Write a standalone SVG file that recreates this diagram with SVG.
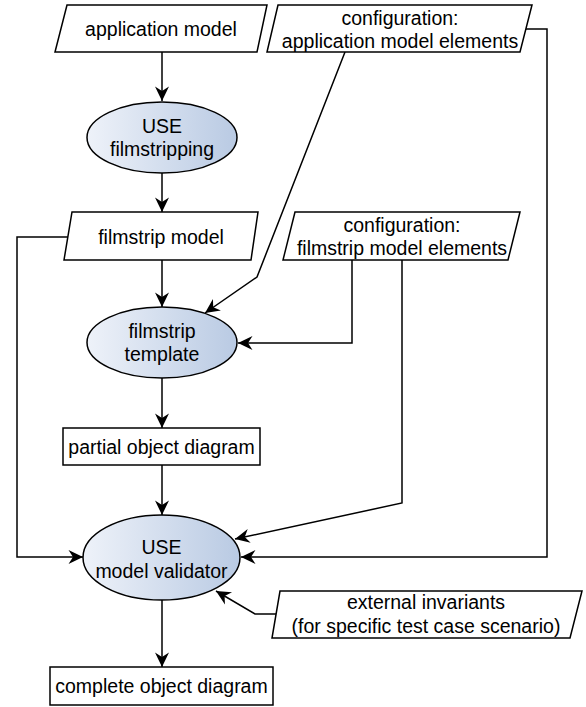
<svg xmlns="http://www.w3.org/2000/svg" width="586" height="707" viewBox="0 0 586 707">
<defs>
<linearGradient id="g" x1="0" y1="0" x2="1" y2="0">
<stop offset="0" stop-color="#eef2f9"/>
<stop offset="1" stop-color="#b9cae3"/>
</linearGradient>
<marker id="arr" markerUnits="userSpaceOnUse" markerWidth="18" markerHeight="18" viewBox="-16 -9 18 18" refX="0" refY="0" orient="auto">
<path d="M0,0 L-14.5,-7 L-10,0 L-14.5,7 Z" fill="#000"/>
</marker>
<style>
.s{fill:#fff;stroke:#000;stroke-width:1.5}
.e{fill:url(#g);stroke:#000;stroke-width:1.5}
.c{fill:none;stroke:#000;stroke-width:1.5}
.a{marker-end:url(#arr)}
text{font-family:"Liberation Sans",Arial,sans-serif;font-size:19.5px;fill:#000;text-anchor:middle}
</style>
</defs>
<rect width="586" height="707" fill="#fff"/>
<g id="connectors">
<path class="c a" d="M162,52 L162,101"/>
<path class="c a" d="M162,173 L162,212"/>
<path class="c a" d="M162,260 L162,307"/>
<path class="c a" d="M162,378 L162,428"/>
<path class="c a" d="M162,465 L162,515"/>
<path class="c a" d="M162,600 L162,667"/>
<path class="c a" d="M68,237 L17,237 L17,557 L83,557"/>
<path class="c a" d="M526,29 L547,29 L547,557 L241,557"/>
<path class="c a" d="M345,52 L257,277 L205,313"/>
<path class="c a" d="M352,260 L352,343 L238,343"/>
<path class="c a" d="M402,260 L402,503 L235,539"/>
<path class="c a" d="M276,614 L255,614 L216,591"/>
</g>
<g id="application-model">
<path class="s" d="M67,5 L267,5 L257,52 L55,52 Z"/>
<text x="161" y="36">application model</text>
</g>
<g id="config-app-model">
<path class="s" d="M278,5 L532,5 L520,52 L267,52 Z"/>
<text x="400" y="25">configuration:</text>
<text x="400" y="48">application model elements</text>
</g>
<g id="use-filmstripping">
<ellipse class="e" cx="162" cy="137.5" rx="75" ry="35.5"/>
<text x="162" y="133">USE</text>
<text x="162" y="156">filmstripping</text>
</g>
<g id="filmstrip-model">
<path class="s" d="M72,212 L258,212 L251,260 L64,260 Z"/>
<text x="161" y="244">filmstrip model</text>
</g>
<g id="config-filmstrip-model">
<path class="s" d="M295,212 L520,212 L508,260 L283,260 Z"/>
<text x="402" y="232">configuration:</text>
<text x="402" y="255">filmstrip model elements</text>
</g>
<g id="filmstrip-template">
<ellipse class="e" cx="162" cy="342.5" rx="75" ry="35.5"/>
<text x="162" y="338">filmstrip</text>
<text x="162" y="361">template</text>
</g>
<g id="partial-object-diagram">
<rect class="s" x="63" y="428" width="197" height="37"/>
<text x="161.5" y="454">partial object diagram</text>
</g>
<g id="use-model-validator">
<ellipse class="e" cx="161.5" cy="557.5" rx="78.5" ry="42.5"/>
<text x="161.5" y="554">USE</text>
<text x="161.5" y="578">model validator</text>
</g>
<g id="external-invariants">
<path class="s" d="M280,591 L582,591 L570,638 L272,638 Z"/>
<text x="426" y="609">external invariants</text>
<text x="426" y="633">(for specific test case scenario)</text>
</g>
<g id="complete-object-diagram">
<rect class="s" x="50" y="667" width="223" height="38"/>
<text x="161.5" y="693">complete object diagram</text>
</g>
</svg>
